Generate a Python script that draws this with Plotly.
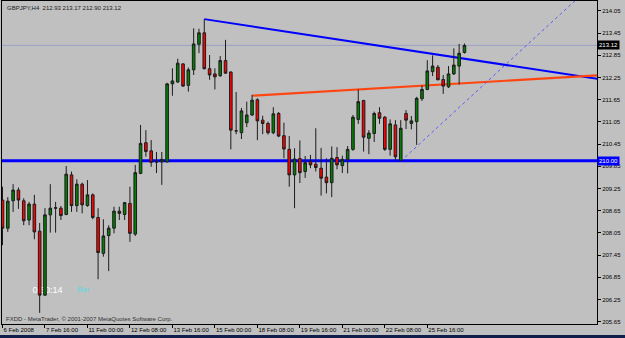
import plotly.graph_objects as go

# ---- data (GBPJPY H4) ----
bar_index = list(range(88))
opens = [208.94, 208.18, 208.92, 209.21, 208.92, 208.40, 208.83, 208.10, 206.37, 208.54,
         208.72, 208.72, 208.55, 209.62, 208.79, 209.37, 208.79, 209.08, 208.47, 207.50,
         207.98, 208.18, 208.64, 208.55, 208.85, 208.02, 209.66, 210.49, 210.27, 209.98,
         209.97, 209.97, 212.08, 212.13, 212.62, 212.04, 212.46, 213.15, 213.46, 212.49,
         212.35, 212.30, 212.71, 212.40, 210.81, 210.76, 211.03, 211.24, 211.65, 211.10,
         211.01, 210.76, 211.28, 210.68, 210.31, 209.62, 210.06, 209.71, 209.98, 209.91,
         209.80, 209.56, 209.41, 210.09, 209.87, 210.04, 210.31, 211.12, 211.63, 210.61,
         210.74, 211.30, 211.18, 210.31, 210.97, 210.01, 211.28, 211.01, 211.06, 211.68,
         211.93, 212.41, 212.53, 212.20, 212.00, 212.35, 212.56, 212.93]
highs = [209.30, 209.02, 209.37, 209.28, 208.99, 208.89, 209.08, 208.32, 208.72, 209.37,
         208.89, 208.78, 209.86, 209.71, 209.50, 209.41, 209.48, 209.12, 208.72, 208.42,
         208.26, 208.76, 208.76, 208.89, 209.30, 209.89, 210.97, 210.83, 210.56, 210.24,
         210.24, 212.11, 212.50, 212.76, 212.64, 212.52, 213.58, 213.57, 213.83, 212.86,
         212.50, 212.83, 213.27, 212.42, 211.86, 211.43, 211.60, 211.78, 211.69, 211.22,
         211.06, 211.45, 211.32, 211.03, 210.67, 210.34, 210.55, 210.13, 210.16, 210.88,
         210.35, 210.07, 210.39, 210.37, 210.14, 210.40, 211.24, 211.93, 211.65, 210.83,
         211.33, 211.45, 211.21, 211.12, 211.10, 211.10, 211.37, 211.21, 211.73, 212.04,
         212.72, 212.85, 212.59, 212.32, 212.56, 213.04, 213.16, 213.17]
lows = [207.72, 208.08, 208.62, 208.70, 208.26, 208.26, 207.88, 205.89, 206.35, 208.06,
        208.06, 208.40, 208.53, 208.62, 208.62, 208.58, 208.76, 208.42, 206.80, 207.41,
        207.02, 208.04, 208.40, 208.40, 207.81, 207.97, 209.64, 210.11, 209.84, 209.67,
        209.35, 209.96, 211.76, 212.11, 212.00, 211.87, 212.32, 212.91, 212.47, 212.19,
        211.93, 212.27, 212.35, 210.31, 210.72, 210.59, 210.91, 211.21, 210.56, 210.72,
        210.71, 210.72, 210.64, 210.07, 209.30, 208.72, 209.40, 209.54, 209.80, 209.71,
        209.06, 209.12, 209.02, 209.77, 209.67, 209.66, 210.27, 211.00, 210.25, 210.18,
        210.51, 211.00, 210.27, 210.14, 210.02, 209.99, 210.86, 210.85, 210.43, 211.62,
        211.91, 212.29, 212.18, 211.81, 211.97, 212.32, 212.06, 212.90]
closes = [208.18, 208.91, 209.21, 208.94, 208.38, 208.83, 208.08, 206.37, 208.54, 208.72,
          208.73, 208.52, 209.64, 208.79, 209.37, 208.81, 209.08, 208.47, 207.52, 207.97,
          208.18, 208.64, 208.58, 208.87, 208.04, 209.68, 210.47, 210.25, 209.96, 209.97,
          210.04, 212.08, 212.16, 212.64, 212.02, 212.46, 213.16, 213.46, 212.49, 212.32,
          212.27, 212.71, 212.37, 210.83, 210.81, 211.35, 211.24, 211.64, 211.08, 211.01,
          210.76, 211.27, 210.67, 210.32, 209.62, 210.05, 209.68, 209.95, 209.89, 209.82,
          209.53, 209.41, 210.07, 209.89, 210.04, 210.31, 211.18, 211.60, 210.64, 210.75,
          211.28, 211.15, 210.31, 211.00, 210.11, 210.88, 211.10, 211.08, 211.69, 211.93,
          212.43, 212.56, 212.19, 212.02, 212.35, 212.59, 212.91, 213.12]

time_tick_bars = [0, 8, 16, 24, 32, 40, 48, 56, 64, 72, 80]
time_tick_labels = ["6 Feb 2008", "7 Feb 16:00", "11 Feb 00:00", "12 Feb 08:00",
                    "13 Feb 16:00", "15 Feb 00:00", "18 Feb 08:00", "19 Feb 16:00",
                    "21 Feb 00:00", "22 Feb 08:00", "25 Feb 16:00"]
price_ticks = [214.05, 213.45, 212.85, 212.25, 211.65, 211.05, 210.45, 209.85,
               209.25, 208.65, 208.05, 207.45, 206.85, 206.25, 205.65]

support_level = 210.00
bid_price = 213.12
# trend lines: (bar, price) anchor pairs
blue_trend = [(38, 213.83), (112, 212.215)]
orange_trend = [(47, 211.76), (112, 212.31)]
dotted_trend = [(75, 209.99), (112, 214.88)]

x_range = [-0.094, 111.96]
y_range = [205.59, 214.32]

FONT = "Liberation Sans, Arial, sans-serif"

fig = go.Figure()
fig.add_trace(go.Candlestick(
    x=bar_index, open=opens, high=highs, low=lows, close=closes,
    increasing=dict(fillcolor="#008000", line=dict(color="#1c1c1c", width=1)),
    decreasing=dict(fillcolor="#ff0000", line=dict(color="#1c1c1c", width=1)),
    whiskerwidth=0, hoverinfo="skip", showlegend=False,
))

shapes = []
# bid line
shapes.append(dict(type="line", xref="paper", x0=0, x1=1, yref="y", y0=bid_price, y1=bid_price,
                   line=dict(color="#9aa2c8", width=1), layer="below"))
# support line
shapes.append(dict(type="line", xref="paper", x0=0, x1=1, yref="y", y0=support_level, y1=support_level,
                   line=dict(color="#0000ff", width=3), layer="below"))
for pts, col, w, dash in [(blue_trend, "#0000ff", 2, "solid"),
                          (orange_trend, "#ff4510", 2.2, "solid"),
                          (dotted_trend, "#5a5aff", 1, "dot")]:
    shapes.append(dict(type="line", xref="x", yref="y",
                       x0=pts[0][0], y0=pts[0][1], x1=pts[1][0], y1=pts[1][1],
                       line=dict(color=col, width=w, dash=dash), layer="below"))
# timer text, drawn beneath the candles
shapes.append(dict(type="rect", xref="x", yref="y", x0=4.5, x1=5.0, y0=206.45, y1=206.6,
                   line=dict(width=0), fillcolor="rgba(0,0,0,0)", layer="below",
                   label=dict(text="0:50:14", textposition="middle left",
                              font=dict(family=FONT, size=9, color="white"))))
# bottom window strip
shapes.append(dict(type="rect", xref="paper", yref="paper", x0=-0.01, x1=1.06, y0=-0.034, y1=-0.06,
                   line=dict(width=0), fillcolor="#101e4c", layer="above"))
fig.update_layout(shapes=shapes)

annotations = [
    dict(text="GBPJPY,H4  212.93 213.17 212.90 213.12", xref="paper", yref="paper",
         x=0, y=1, xanchor="left", yanchor="top", xshift=3, yshift=-2, showarrow=False,
         font=dict(family=FONT, size=6, color="#202020")),
    dict(text="FXDD - MetaTrader, © 2001-2007 MetaQuotes Software Corp.", xref="paper", yref="paper",
         x=0, y=0, xanchor="left", yanchor="bottom", xshift=2, yshift=0, showarrow=False,
         font=dict(family=FONT, size=6, color="#303030")),
    dict(text="Bar", xref="x", yref="y", x=13.6, y=206.53, xanchor="left", yanchor="middle",
         showarrow=False, font=dict(family=FONT, size=8, color="#5fd8e0")),
    dict(text=f"{bid_price:.2f}", xref="paper", yref="y", x=1, y=bid_price, xanchor="left",
         yanchor="middle", xshift=0, showarrow=False, bgcolor="#000000", borderpad=1,
         font=dict(family=FONT, size=6, color="white")),
    dict(text=f"{support_level:.2f}", xref="paper", yref="y", x=1, y=support_level, xanchor="left",
         yanchor="middle", xshift=0, showarrow=False, bgcolor="#0000ff", borderpad=1,
         font=dict(family=FONT, size=6, color="white")),
]
fig.update_layout(annotations=annotations)

fig.update_layout(
    width=625, height=338,
    margin=dict(l=2, r=28, t=1, b=14, pad=0, autoexpand=False),
    paper_bgcolor="#c0c0c0", plot_bgcolor="#c0c0c0",
    showlegend=False, hovermode=False,
    font=dict(family=FONT, size=6, color="#000000"),
    xaxis=dict(range=x_range, rangeslider=dict(visible=False), showgrid=False, zeroline=False,
               tickmode="array", tickvals=time_tick_bars, ticktext=time_tick_labels,
               ticks="outside", ticklen=3, tickcolor="#000000", ticklabelposition="outside right",
               tickangle=0, automargin=False,
               showline=True, linecolor="#000000", linewidth=1, mirror=True,
               tickfont=dict(family=FONT, size=6, color="#000000"), fixedrange=True),
    yaxis=dict(range=y_range, side="right", showgrid=False, zeroline=False,
               tickmode="array", tickvals=price_ticks, ticktext=[f"{v:.2f}" for v in price_ticks],
               ticks="outside", ticklen=3, tickcolor="#000000", automargin=False,
               showline=True, linecolor="#000000", linewidth=1, mirror=True,
               tickfont=dict(family=FONT, size=6, color="#000000"), fixedrange=True),
)

fig.write_html("out.html")
